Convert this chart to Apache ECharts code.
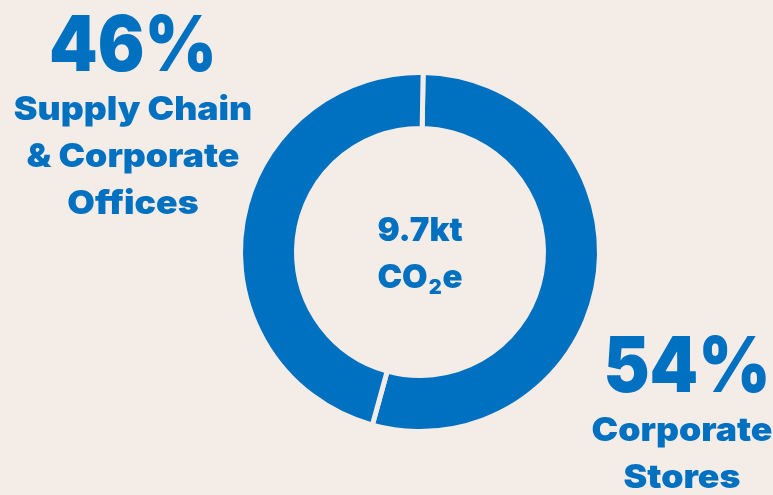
<!DOCTYPE html>
<html>
<head>
<meta charset="utf-8">
<title>Emissions split</title>
<script src="https://cdn.jsdelivr.net/npm/echarts@6/dist/echarts.min.js"></script>
<style>
  html, body { margin: 0; padding: 0; background: #F4ECE6; }
  #chart { width: 773px; height: 495px; }
</style>
</head>
<body>
<div id="chart"></div>
<script>
// Emission shares by source (percent of total)
const categories = ['Corporate Stores', 'Supply Chain & Corporate Offices'];
const shares = [54, 46];
// Label lines shown beside each share
const labelLines = [['Corporate', 'Stores'], ['Supply Chain', '& Corporate', 'Offices']];
// Total shown in the middle of the ring
const totalValue = '9.7kt';

const BLUE = '#0070C0';
const BG = '#F4ECE6';
const FONT = 'Inter';

const chart = echarts.init(document.getElementById('chart'), null, { renderer: 'canvas' });

// Heavy centred text block, stretched horizontally by sx around its anchor
function textBlock(txt, x, y, size, sx, lineHeight) {
  return {
    type: 'text', silent: true, x: x, y: y, scaleX: sx,
    style: {
      text: txt, x: 0, y: 0, align: 'center', verticalAlign: 'middle',
      fontFamily: FONT, fontWeight: 900, fontSize: size,
      lineHeight: lineHeight || size, fill: BLUE
    }
  };
}

chart.setOption({
  backgroundColor: BG,
  animation: false,
  series: [{
    type: 'pie',
    center: [420, 252],
    radius: [123.5, 179.5],
    startAngle: 89,
    clockwise: true,
    silent: true,
    label: { show: false },
    labelLine: { show: false },
    emphasis: { disabled: true },
    itemStyle: { color: BLUE, borderColor: BG, borderWidth: 5 },
    data: categories.map((name, i) => ({ name: name, value: shares[i] }))
  }],
  graphic: [
    textBlock(shares[1] + '%', 133, 48, 77, 0.9),
    textBlock(labelLines[1].join('\n'), 133, 157, 33, 1.08, 47),
    textBlock(shares[0] + '%', 687, 369, 77, 0.9),
    textBlock(labelLines[0].join('\n'), 682, 455, 33, 1.08, 47),
    {
      type: 'text', silent: true, x: 420, y: 254.5,
      style: {
        text: totalValue + '\n{m|CO}{s|2}{m|e}', x: 0, y: 0, align: 'center', verticalAlign: 'middle',
        fontFamily: FONT, fontWeight: 900, fontSize: 33, lineHeight: 47, fill: BLUE,
        rich: {
          m: { fontFamily: FONT, fontWeight: 900, fontSize: 33, lineHeight: 47, fill: BLUE },
          s: { fontFamily: FONT, fontWeight: 900, fontSize: 20, lineHeight: 20, padding: [20, 1, 0, 1], fill: BLUE }
        }
      }
    }
  ]
});
</script>
</body>
</html>
